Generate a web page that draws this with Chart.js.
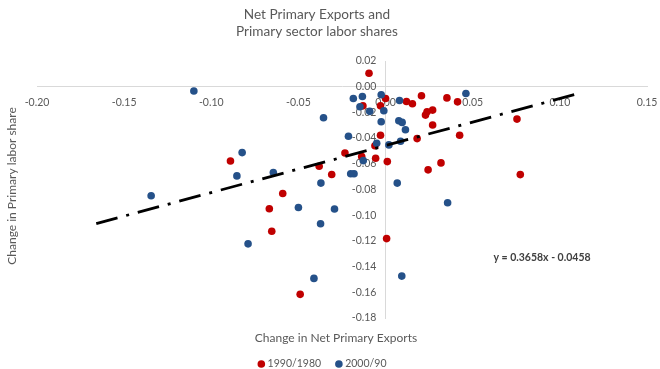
<!DOCTYPE html>
<html>
<head>
<meta charset="utf-8">
<script src="https://cdn.jsdelivr.net/npm/chart.js@4/dist/chart.umd.min.js"></script>
<style>
  html, body { margin: 0; padding: 0; background: #ffffff; }
  #wrap { width: 660px; height: 369px; position: relative; }
</style>
</head>
<body>
<div id="wrap"><canvas id="chart"></canvas></div>
<script>
// Text
const titleLines = ['Net Primary Exports and', 'Primary sector labor shares'];
const xAxisTitle = 'Change in Net Primary Exports';
const yAxisTitle = 'Change in Primary labor share';
const seriesNames = ['1990/1980', '2000/90'];

// Axis ranges and tick steps
const xRange = [-0.20, 0.15];
const xStep = 0.05;
const yRange = [-0.18, 0.02];
const yStep = 0.02;

// 1990/1980: change in net primary exports (x) vs change in primary labor share (y)
const x1990 = [-0.0095, 0.0000, -0.0130, -0.0029, 0.0120, 0.0154, 0.0206, 0.0352, 0.0413, 0.0270,
               0.0238, 0.0229, 0.0270, 0.0754, -0.0029, 0.0181, 0.0425, -0.0061, -0.0233, -0.0137,
               -0.0057, 0.0010, 0.0318, 0.0244, 0.0773, -0.0381, -0.0309, -0.0890, -0.0590, -0.0667,
               -0.0653, 0.0006, -0.0490];
const y1990 = [0.0105, -0.0092, -0.0149, -0.0149, -0.0115, -0.0133, -0.0071, -0.0087, -0.0118, -0.0182,
               -0.0195, -0.0221, -0.0298, -0.0252, -0.0378, -0.0404, -0.0378, -0.0459, -0.0516, -0.0543,
               -0.0557, -0.0583, -0.0593, -0.0647, -0.0684, -0.0619, -0.0683, -0.0578, -0.0831, -0.0950,
               -0.1125, -0.1182, -0.1616];

// 2000/90
const x2000 = [-0.1100, -0.0185, -0.0133, -0.0025, -0.0147, -0.0091, -0.0010, 0.0080, 0.0461, -0.0356,
               -0.0025, 0.0076, 0.0095, 0.0114, -0.0213, -0.0051, 0.0019, 0.0086, -0.0128, -0.0200,
               -0.0181, 0.0067, -0.0371, -0.0823, -0.0853, -0.0644, -0.1345, -0.0500, -0.0293, -0.0373,
               -0.0789, -0.0411, 0.0093, 0.0356];
const y2000 = [-0.0033, -0.0092, -0.0076, -0.0063, -0.0156, -0.0192, -0.0187, -0.0107, -0.0053, -0.0242,
               -0.0273, -0.0265, -0.0278, -0.0335, -0.0386, -0.0440, -0.0453, -0.0425, -0.0575, -0.0678,
               -0.0678, -0.0750, -0.0750, -0.0513, -0.0694, -0.0668, -0.0849, -0.0940, -0.0952, -0.1066,
               -0.1223, -0.1492, -0.1474, -0.0903];

// Linear trendline over both periods
const trendSlope = 0.3658;
const trendIntercept = -0.0458;
const trendSpan = [-0.166, 0.109];

const colors = ['#C00000', '#255189'];
const textColor = '#595959';
const fontFamily = 'Lato, "Liberation Sans", sans-serif';

const toPoints = (xs, ys) => xs.map((x, i) => ({ x: x, y: ys[i] }));
const trendPoints = trendSpan.map(x => ({ x: x, y: trendSlope * x + trendIntercept }));

const fmt2 = v => {
  const r = Math.abs(v) < 1e-9 ? 0 : v;
  return r.toFixed(2);
};

const equationText = 'y = ' + trendSlope.toFixed(4) + 'x ' + (trendIntercept < 0 ? '- ' : '+ ') + Math.abs(trendIntercept).toFixed(4);

// Title, axis titles, legend and equation drawn on top of the plot
const decorations = {
  id: 'decorations',
  afterDraw(chart) {
    const ctx = chart.ctx;
    ctx.save();
    ctx.fillStyle = textColor;
    ctx.textBaseline = 'middle';

    // chart title
    ctx.font = '13.6px ' + fontFamily;
    ctx.textAlign = 'center';
    ctx.fillText(titleLines[0], 317, 15);
    ctx.fillText(titleLines[1], 317, 32);

    // axis titles
    ctx.font = '12px ' + fontFamily;
    ctx.fillText(xAxisTitle, 336, 338);
    ctx.save();
    ctx.translate(12, 186);
    ctx.rotate(-Math.PI / 2);
    ctx.fillText(yAxisTitle, 0, 0);
    ctx.restore();

    // legend (scatter series only)
    ctx.font = '10.5px ' + fontFamily;
    ctx.textAlign = 'left';
    const sets = chart.data.datasets.filter(d => d.showInLegend);
    const r = 3.8, gap = 2.5, spacing = 14;
    const widths = sets.map(d => ctx.measureText(d.label).width);
    let total = 0;
    sets.forEach((d, i) => { total += 2 * r + gap + widths[i] + (i < sets.length - 1 ? spacing : 0); });
    let lx = 322 - total / 2;
    const ly = 364;
    sets.forEach((d, i) => {
      ctx.beginPath();
      ctx.fillStyle = d.backgroundColor;
      ctx.arc(lx + r, ly, r, 0, Math.PI * 2);
      ctx.fill();
      ctx.fillStyle = textColor;
      ctx.fillText(d.label, lx + 2 * r + gap, ly);
      lx += 2 * r + gap + widths[i] + spacing;
    });

    // trendline equation
    ctx.font = 'bold 10.5px ' + fontFamily;
    ctx.fillStyle = '#404040';
    ctx.textAlign = 'center';
    ctx.fillText(equationText, 542, 258);
    ctx.restore();
  }
};

new Chart(document.getElementById('chart'), {
  type: 'scatter',
  data: {
    datasets: [
      {
        type: 'line',
        label: 'Linear trend',
        data: trendPoints,
        borderColor: '#000000',
        borderWidth: 2.8,
        borderDash: [22, 9, 3, 9],
        borderCapStyle: 'butt',
        pointRadius: 0,
        fill: false,
        showInLegend: false,
        order: 0
      },
      {
        label: seriesNames[0],
        data: toPoints(x1990, y1990),
        backgroundColor: colors[0],
        borderColor: colors[0],
        borderWidth: 0,
        pointRadius: 3.8,
        pointHoverRadius: 3.8,
        showInLegend: true,
        order: 2
      },
      {
        label: seriesNames[1],
        data: toPoints(x2000, y2000),
        backgroundColor: colors[1],
        borderColor: colors[1],
        borderWidth: 0,
        pointRadius: 3.8,
        pointHoverRadius: 3.8,
        showInLegend: true,
        order: 1
      }
    ]
  },
  options: {
    responsive: true,
    maintainAspectRatio: false,
    animation: false,
    devicePixelRatio: 1,
    layout: { padding: { left: 37, right: 13, top: 61, bottom: 51 } },
    plugins: {
      legend: { display: false },
      title: { display: false },
      tooltip: { enabled: false }
    },
    scales: {
      x: {
        type: 'linear',
        min: xRange[0],
        max: xRange[1],
        position: { y: 0 },
        afterFit: s => { s.height = 0; s.paddingLeft = 0; s.paddingRight = 0; },
        grid: { display: false, drawTicks: false },
        border: { display: true, color: '#d9d9d9', width: 1 },
        ticks: {
          stepSize: xStep,
          autoSkip: false,
          maxRotation: 0,
          padding: 10,
          color: textColor,
          font: { family: fontFamily, size: 10.5 },
          callback: v => fmt2(v)
        }
      },
      y: {
        type: 'linear',
        min: yRange[0],
        max: yRange[1],
        position: { x: 0 },
        afterFit: s => { s.width = 0; s.paddingTop = 0; s.paddingBottom = 0; },
        grid: { display: false, drawTicks: false },
        border: { display: true, color: '#d9d9d9', width: 1 },
        ticks: {
          stepSize: yStep,
          autoSkip: false,
          color: textColor,
          font: { family: fontFamily, size: 10.5 },
          // right-aligned at the axis line; the trailing em + thin space keeps a gap from it
          callback: v => fmt2(v) + '\u2003\u2009'
        }
      }
    }
  },
  plugins: [decorations]
});
</script>
</body>
</html>
